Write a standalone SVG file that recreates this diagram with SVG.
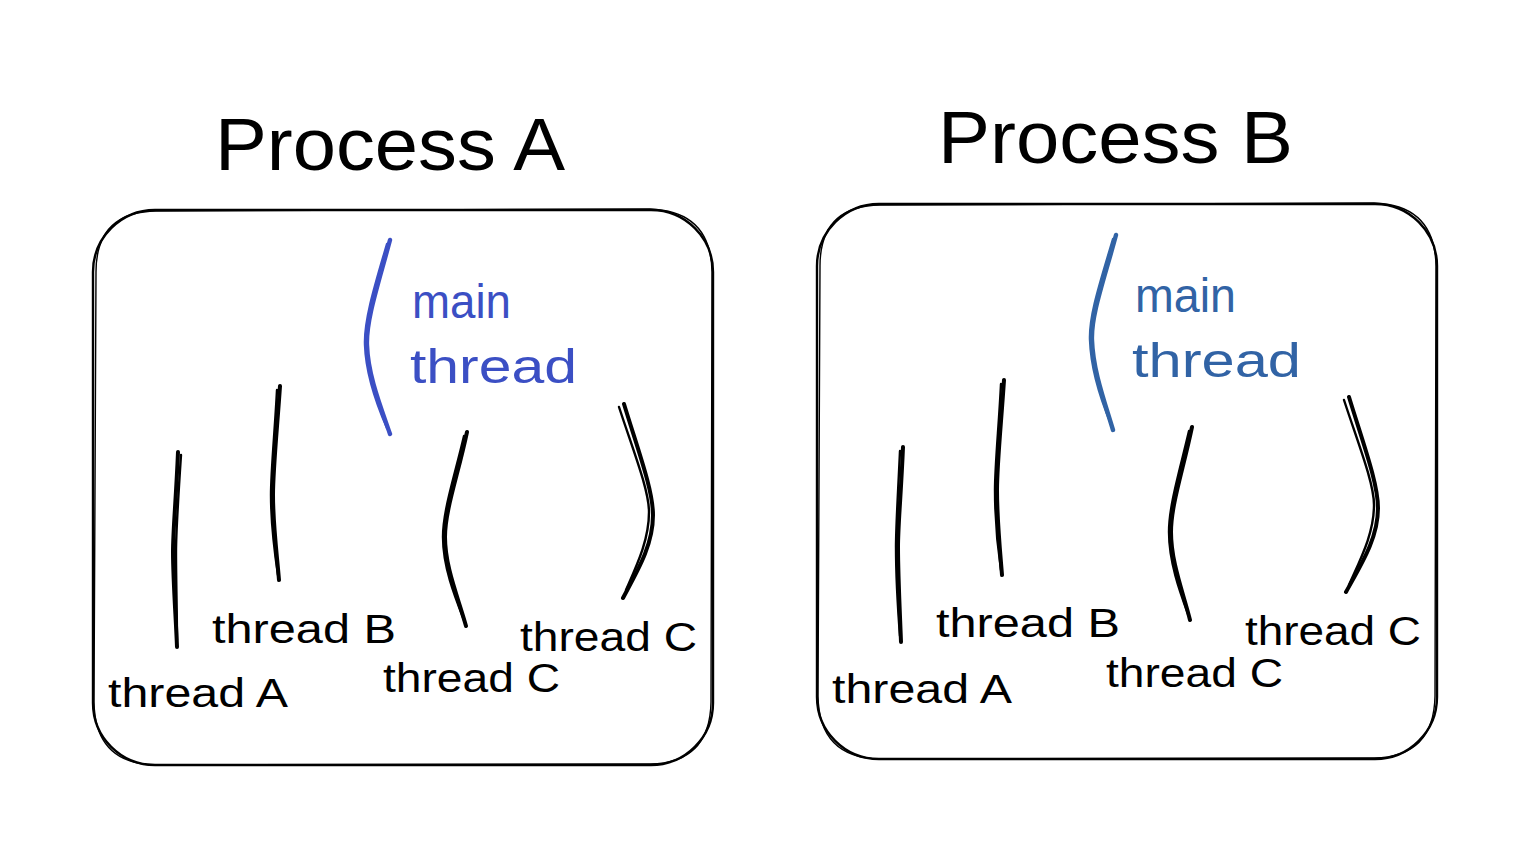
<svg xmlns="http://www.w3.org/2000/svg" width="1522" height="848" viewBox="0 0 1522 848">
<style>
.bg{fill:#ffffff}
.box{fill:none;stroke:#000;stroke-width:2.4;stroke-linecap:round}
.box2{fill:none;stroke:#000;stroke-width:1.4;stroke-linecap:round}
.ln{fill:none;stroke:#000;stroke-width:4;stroke-linecap:round;stroke-linejoin:round}
.ln2{fill:none;stroke:#000;stroke-width:2.4;stroke-linecap:round;stroke-linejoin:round}
.mainA{fill:none;stroke:#3b4fc4;stroke-width:4.4;stroke-linecap:round;stroke-linejoin:round}
.mainA2{fill:none;stroke:#3b4fc4;stroke-width:2.4;stroke-linecap:round;stroke-linejoin:round}
.mainB{fill:none;stroke:#3163a5;stroke-width:4.4;stroke-linecap:round;stroke-linejoin:round}
.mainB2{fill:none;stroke:#3163a5;stroke-width:2.4;stroke-linecap:round;stroke-linejoin:round}
text{font-family:"Liberation Sans","DejaVu Sans",sans-serif;}
.title{font-size:74px;fill:#000;}
.lab{font-size:40px;fill:#000;}
.blueA{font-size:48px;fill:#3b4fc4;}
.blueB{font-size:48px;fill:#3163a5;}
</style>
<rect class="bg" x="0" y="0" width="1522" height="848"/>

<g id="processA">
  <text class="title" x="215" y="170" textLength="350" lengthAdjust="spacingAndGlyphs">Process A</text>
  <rect class="box" x="93" y="210" width="620" height="555" rx="62" ry="62"/>
  <path class="box2" d="M156,211 L650,209 Q711,211 712,272 L711,702 Q710,763 650,764 L156,765 Q95,764 94,702 L96,272 Q96,212 156,211"/>
</g>
<g id="processB">
  <text class="title" x="938" y="163" textLength="355" lengthAdjust="spacingAndGlyphs">Process B</text>
  <rect class="box" x="817" y="204" width="620" height="555" rx="62" ry="62"/>
  <path class="box2" d="M880,205 L1374,203 Q1435,205 1436,266 L1435,696 Q1434,757 1374,758 L880,759 Q819,758 818,696 L820,266 Q820,206 880,205"/>
</g>

<g id="connectors">
  <!-- Process A threads -->
  <path class="ln" d="M178,452 C176,500 173,530 173,552 C173,580 176,620 177,647"/>
  <path class="ln2" d="M181,455 C178,500 176,530 176,552 C176,580 177,615 177,640"/>
  <path class="ln" d="M280,386 C277,430 273,470 273,495 C273,525 277,555 279,580"/>
  <path class="ln2" d="M277,390 C275,430 271,470 271,495 C271,525 275,555 278,575"/>
  <path class="mainA" d="M390,240 C378,285 366,320 367,345 C368,375 380,405 390,434"/>
  <path class="mainA2" d="M387,244 C375,285 364,320 365,345 C366,375 377,405 387,428"/>
  <path class="ln" d="M467,432 C458,475 445,510 445,537 C445,567 458,597 466,626"/>
  <path class="ln2" d="M464,436 C455,475 443,510 443,537 C443,567 455,597 464,620"/>
  <path class="ln" d="M624,404 C638,450 653,490 653,515 C653,545 638,570 623,598"/>
  <path class="ln2" d="M619,407 C633,450 649,490 649,512 C649,540 637,565 626,590"/>
  <!-- Process B threads -->
  <path class="ln" d="M903,447 C901,495 898,525 898,547 C898,575 900,615 901,642"/>
  <path class="ln2" d="M900,451 C898,495 896,525 896,547 C896,575 898,610 900,636"/>
  <path class="ln" d="M1004,380 C1001,425 997,465 997,490 C997,520 1000,550 1002,575"/>
  <path class="ln2" d="M1001,384 C999,425 995,465 995,490 C995,520 998,550 1001,570"/>
  <path class="mainB" d="M1116,235 C1104,280 1091,315 1092,340 C1093,370 1104,400 1113,430"/>
  <path class="mainB2" d="M1113,239 C1101,280 1089,315 1090,340 C1091,370 1101,400 1111,424"/>
  <path class="ln" d="M1192,427 C1183,470 1171,505 1171,532 C1171,562 1183,592 1190,620"/>
  <path class="ln2" d="M1189,431 C1180,470 1169,505 1169,532 C1169,562 1180,592 1188,614"/>
  <path class="ln" d="M1349,397 C1363,443 1378,483 1378,508 C1378,538 1362,563 1346,592"/>
  <path class="ln2" d="M1344,400 C1358,443 1374,483 1374,505 C1374,533 1361,558 1349,585"/>
</g>

<g id="labelsA">
  <text class="blueA" x="412" y="318" textLength="99" lengthAdjust="spacingAndGlyphs">main</text>
  <text class="blueA" x="410" y="383" textLength="167" lengthAdjust="spacingAndGlyphs">thread</text>
  <text class="lab" x="108" y="707" textLength="180" lengthAdjust="spacingAndGlyphs">thread A</text>
  <text class="lab" x="212" y="643" textLength="184" lengthAdjust="spacingAndGlyphs">thread B</text>
  <text class="lab" x="383" y="692" textLength="177" lengthAdjust="spacingAndGlyphs">thread C</text>
  <text class="lab" x="520" y="651" textLength="177" lengthAdjust="spacingAndGlyphs">thread C</text>
</g>
<g id="labelsB">
  <text class="blueB" x="1135" y="312" textLength="101" lengthAdjust="spacingAndGlyphs">main</text>
  <text class="blueB" x="1132" y="377" textLength="169" lengthAdjust="spacingAndGlyphs">thread</text>
  <text class="lab" x="832" y="703" textLength="180" lengthAdjust="spacingAndGlyphs">thread A</text>
  <text class="lab" x="936" y="637" textLength="184" lengthAdjust="spacingAndGlyphs">thread B</text>
  <text class="lab" x="1106" y="687" textLength="177" lengthAdjust="spacingAndGlyphs">thread C</text>
  <text class="lab" x="1245" y="645" textLength="176" lengthAdjust="spacingAndGlyphs">thread C</text>
</g>
</svg>
